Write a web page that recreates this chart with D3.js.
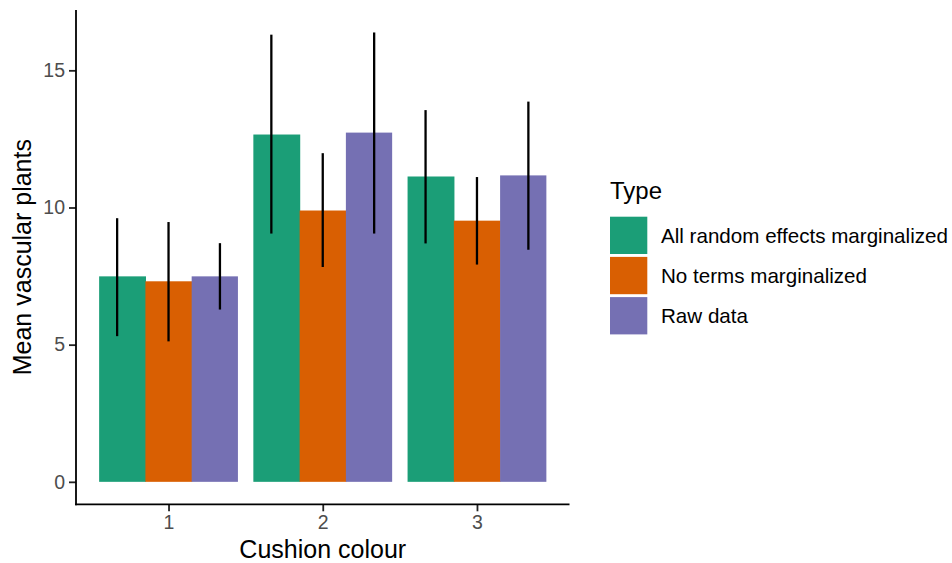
<!DOCTYPE html>
<html>
<head>
<meta charset="utf-8">
<script src="https://cdn.jsdelivr.net/npm/d3@7"></script>
<style>
  html, body { margin: 0; padding: 0; background: #fff; }
  svg { display: block; font-family: "Liberation Sans", Arial, Helvetica, sans-serif; }
</style>
</head>
<body>
<svg id="chart" width="952" height="563"></svg>
<script>
// Cushion colour categories and model types
const categories = ["1", "2", "3"];
const types = ["All random effects marginalized", "No terms marginalized", "Raw data"];
const colours = ["#1B9E77", "#D95F02", "#7570B3"];

// Mean vascular plants per type (rows) and cushion colour (columns)
const meanAllRE   = [7.49, 12.66, 11.13];
const meanNoTerms = [7.31, 9.89, 9.52];
const meanRaw     = [7.49, 12.73, 11.17];

// Interval bounds per type
const lowerAllRE   = [5.31, 9.05, 8.69];
const upperAllRE   = [9.61, 16.30, 13.55];
const lowerNoTerms = [5.12, 7.83, 7.92];
const upperNoTerms = [9.47, 11.98, 11.11];
const lowerRaw     = [6.28, 9.05, 8.46];
const upperRaw     = [8.70, 16.38, 13.86];

const yTicks = [0, 5, 10, 15];

const means = [meanAllRE, meanNoTerms, meanRaw];
const lowers = [lowerAllRE, lowerNoTerms, lowerRaw];
const uppers = [upperAllRE, upperNoTerms, upperRaw];

const rows = [];
types.forEach((t, ti) => {
  categories.forEach((c, ci) => {
    rows.push({ type: t, ti, cat: c, mean: means[ti][ci], lo: lowers[ti][ci], hi: uppers[ti][ci] });
  });
});

const svg = d3.select("#chart");
const panelL = 76, panelR = 569.5, panelT = 10, panelB = 504.3;

// Continuous y with 5% expansion on each side
const yMax = d3.max(rows, d => d.hi), yMin = 0;
const pad = (yMax - yMin) * 0.05;
const y = d3.scaleLinear().domain([yMin - pad, yMax + pad]).range([panelB, panelT]);

// Discrete x with 0.6 units of expansion on each side
const x = d3.scalePoint().domain(categories).range([panelL, panelR]).padding(0.6);
const step = x.step();
const barW = step * 0.9 / types.length;
const dodgeBar = ti => (ti - (types.length - 1) / 2) * barW;
const dodgeErr = ti => (ti - (types.length - 1) / 2) * (step / types.length);

// Bars (slightly widened so neighbouring bars meet without a seam)
svg.append("g").selectAll("rect").data(rows).join("rect")
  .attr("x", d => x(d.cat) + dodgeBar(d.ti) - barW / 2)
  .attr("width", d => barW + (d.ti < types.length - 1 ? 0.6 : 0))
  .attr("y", d => y(d.mean))
  .attr("height", d => y(0) - y(d.mean))
  .attr("fill", d => colours[d.ti]);

// Interval lines
svg.append("g").selectAll("line").data(rows).join("line")
  .attr("x1", d => x(d.cat) + dodgeErr(d.ti))
  .attr("x2", d => x(d.cat) + dodgeErr(d.ti))
  .attr("y1", d => y(d.lo))
  .attr("y2", d => y(d.hi))
  .attr("stroke", "#000")
  .attr("stroke-width", 2.3);

// Axes
const yAxis = svg.append("g").attr("transform", `translate(${panelL},0)`)
  .call(d3.axisLeft(y).tickValues(yTicks).tickSize(7).tickPadding(4));
const xAxis = svg.append("g").attr("transform", `translate(0,${panelB})`)
  .call(d3.axisBottom(x).tickSize(7).tickPadding(4));

[yAxis, xAxis].forEach(g => {
  g.select(".domain").remove();
  g.selectAll(".tick line").attr("stroke", "#222").attr("stroke-width", 1.8);
  g.selectAll(".tick text").attr("fill", "#4D4D4D").style("font-size", "19.5px")
    .style("font-family", "\"Liberation Sans\", Arial, Helvetica, sans-serif");
});

svg.append("line").attr("x1", panelL).attr("x2", panelL).attr("y1", panelT).attr("y2", panelB + 0.9)
  .attr("stroke", "#000").attr("stroke-width", 1.8);
svg.append("line").attr("x1", panelL - 0.9).attr("x2", panelR).attr("y1", panelB).attr("y2", panelB)
  .attr("stroke", "#000").attr("stroke-width", 1.8);

// Axis titles
svg.append("text")
  .attr("transform", `translate(31,${(panelT + panelB) / 2}) rotate(-90)`)
  .attr("text-anchor", "middle")
  .style("font-size", "25px")
  .text("Mean vascular plants");

svg.append("text")
  .attr("x", (panelL + panelR) / 2).attr("y", 558)
  .attr("text-anchor", "middle")
  .style("font-size", "25px")
  .text("Cushion colour");

// Legend
const legend = svg.append("g").attr("transform", "translate(610,0)");
legend.append("text").attr("x", 0).attr("y", 199).style("font-size", "24px").text("Type");
const keyTop = 216.7, keySize = 37.3, keyGap = 2.9;
types.forEach((t, i) => {
  const ky = keyTop + i * (keySize + keyGap);
  legend.append("rect").attr("x", 0).attr("y", ky).attr("width", keySize).attr("height", keySize)
    .attr("fill", colours[i]);
  legend.append("text").attr("x", 51).attr("y", ky + keySize / 2 + 7.4)
    .style("font-size", "20.6px").attr("fill", "#000").text(t);
});
</script>
</body>
</html>
